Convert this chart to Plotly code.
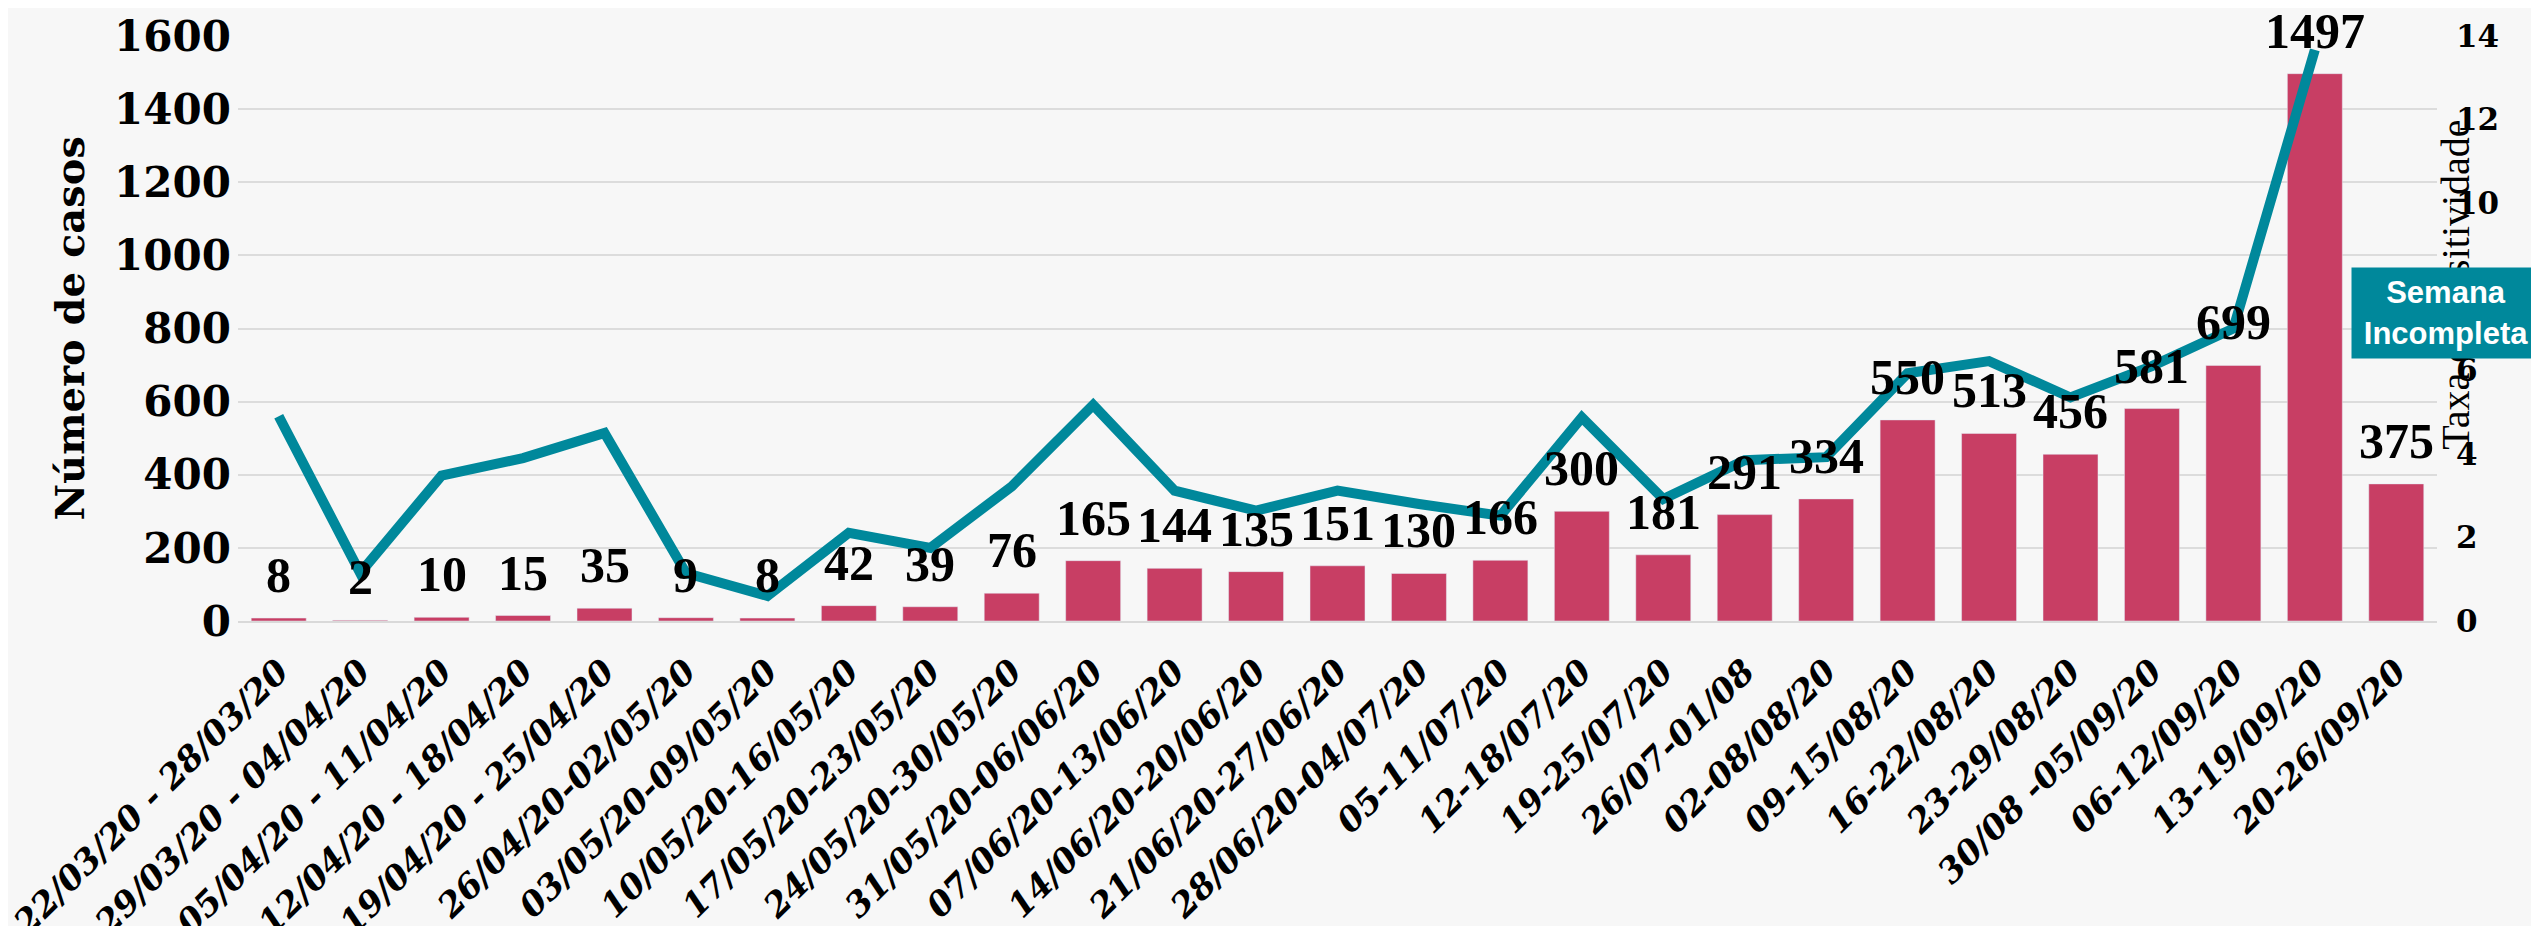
import plotly.graph_objects as go

# weekly cases and positivity rate
weeks = [
    '22/03/20 - 28/03/20', '29/03/20 - 04/04/20', '05/04/20 - 11/04/20',
    '12/04/20 - 18/04/20', '19/04/20 - 25/04/20', '26/04/20-02/05/20',
    '03/05/20-09/05/20', '10/05/20-16/05/20', '17/05/20-23/05/20',
    '24/05/20-30/05/20', '31/05/20-06/06/20', '07/06/20-13/06/20',
    '14/06/20-20/06/20', '21/06/20-27/06/20', '28/06/20-04/07/20',
    '05-11/07/20', '12-18/07/20', '19-25/07/20', '26/07-01/08',
    '02-08/08/20', '09-15/08/20', '16-22/08/20', '23-29/08/20',
    '30/08 -05/09/20', '06-12/09/20', '13-19/09/20', '20-26/09/20',
]
cases = [8, 2, 10, 15, 35, 9, 8, 42, 39, 76, 165, 144, 135, 151, 130, 166,
         300, 181, 291, 334, 550, 513, 456, 581, 699, 1497, 375]
positivity = [4.9, 1.15, 3.48, 3.9, 4.5, 1.15, 0.6, 2.11, 1.75, 3.22, 5.17,
              3.12, 2.64, 3.12, 2.8, 2.52, 4.87, 2.92, 3.85, 3.92, 5.93,
              6.22, 5.35, 6.1, 7.0, 13.67, None]

y_ticks = [0, 200, 400, 600, 800, 1000, 1200, 1400, 1600]
y2_ticks = [0, 2, 4, 6, 8, 10, 12, 14]

bar_color = '#C83E64'
line_color = '#00889B'
bg = '#f7f7f7'

fig = go.Figure()

fig.add_trace(go.Bar(
    x=weeks,
    y=cases,
    marker_color=bar_color,
    name='Número de casos',
))

fig.add_trace(go.Scatter(
    x=weeks,
    y=positivity,
    mode='lines',
    line=dict(color=line_color, width=10),
    yaxis='y2',
    name='Taxa de positividade',
))

# value labels above the bars (drawn on top of the line)
for w, v in zip(weeks, cases):
    fig.add_annotation(
        x=w, y=v, xref='x', yref='y',
        yanchor='bottom', yshift=13,
        text=str(v), showarrow=False,
        font=dict(family='Liberation Serif', size=50, color='black', weight='bold'),
    )

# axis titles
fig.add_annotation(
    x=-0.088, y=0.5, xref='paper', yref='paper',
    text='Número de casos', textangle=-90, showarrow=False,
    font=dict(family='DejaVu Serif', size=40, color='black', weight='bold'),
)
fig.add_annotation(
    x=1.0196, y=0.574, xref='paper', yref='paper',
    text='Taxa de positividade', textangle=-90, showarrow=False,
    font=dict(family='Liberation Serif', size=40, color='black'),
)

# "Semana Incompleta" box, drawn over the right axis title
fig.add_annotation(
    x=0.961, y=0.526, xref='paper', yref='paper',
    xanchor='left', yanchor='middle',
    text='<b>Semana<br>Incompleta</b>', showarrow=False,
    width=178, height=80, borderpad=5, align='center',
    bgcolor=line_color,
    font=dict(family='Liberation Sans', size=31, color='white'),
)

fig.update_layout(
    width=2539,
    height=926,
    margin=dict(l=230, r=110, t=28, b=313),
    paper_bgcolor=bg,
    plot_bgcolor=bg,
    showlegend=False,
    bargap=0.325,
    xaxis=dict(
        tickangle=-45,
        tickfont=dict(family='DejaVu Serif', size=34, color='black',
                      weight='bold', style='italic'),
        showline=True, linecolor='#d9d9d9', linewidth=2,
        showgrid=False, automargin=False, ticklabelstandoff=15,
    ),
    yaxis=dict(
        range=[0, 1600],
        tickvals=y_ticks,
        tickfont=dict(family='DejaVu Serif', size=42, color='black', weight='bold'),
        showgrid=True, gridcolor='#dcdcdc', gridwidth=2,
        zeroline=False, automargin=False, ticklabelstandoff=6,
    ),
    yaxis2=dict(
        range=[0, 14],
        tickvals=y2_ticks,
        tickfont=dict(family='DejaVu Serif', size=31, color='black', weight='bold'),
        overlaying='y', side='right',
        showgrid=False, zeroline=False, automargin=False,
        ticklabelstandoff=18,
    ),
)

fig.write_html('out.html')
